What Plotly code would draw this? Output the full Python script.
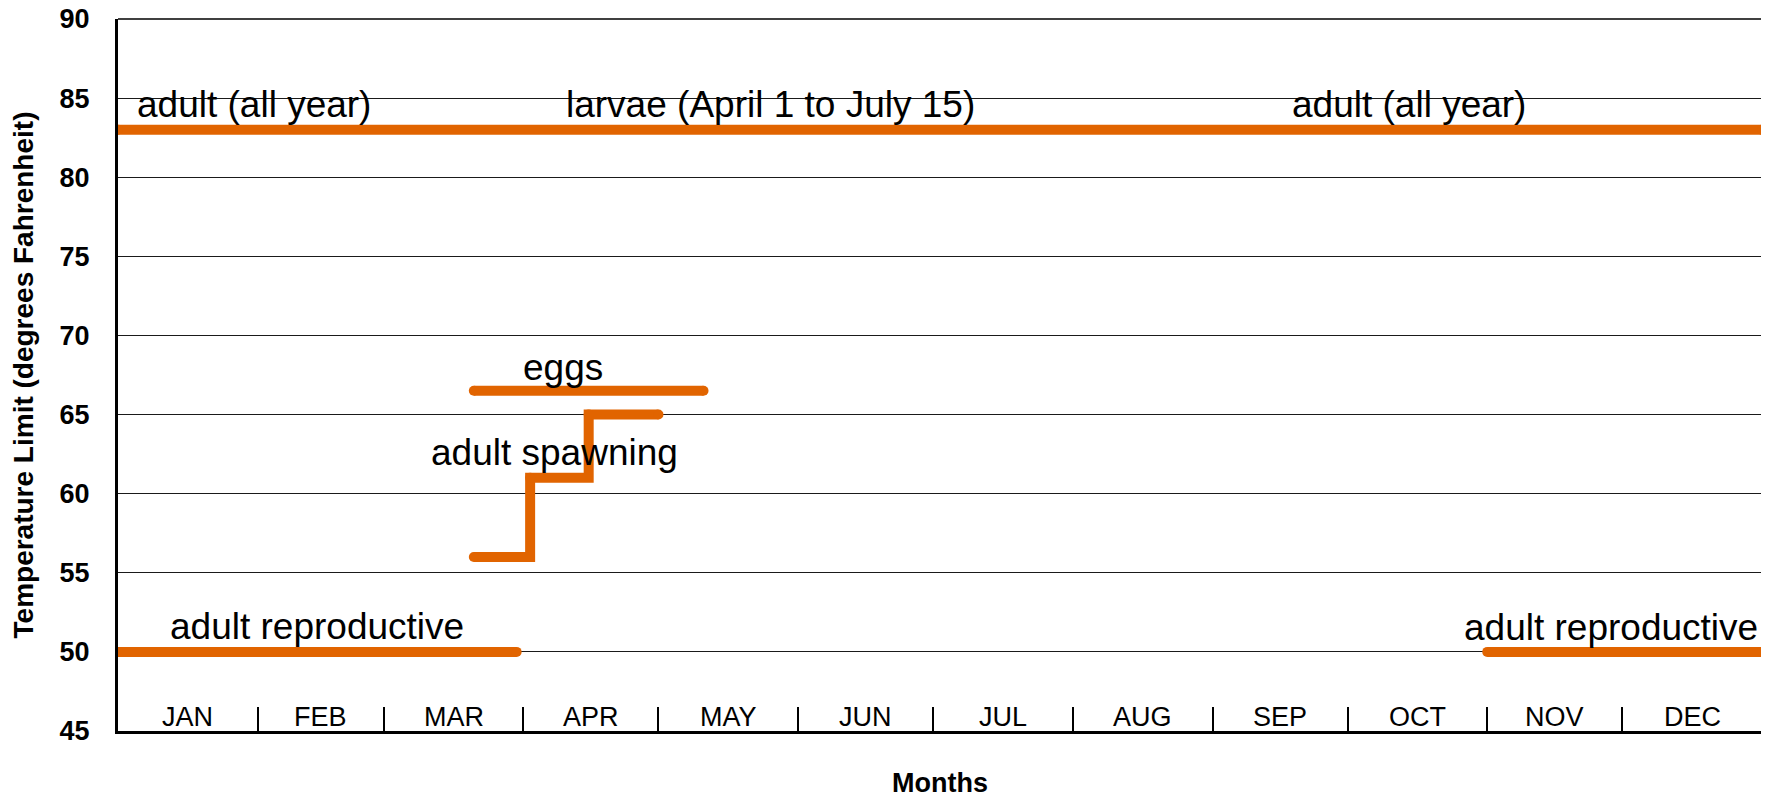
import plotly.graph_objects as go
import numpy as np

# ---- data ----
months = ["JAN", "FEB", "MAR", "APR", "MAY", "JUN", "JUL", "AUG", "SEP", "OCT", "NOV", "DEC"]
month_days = [31, 28, 31, 30, 31, 30, 31, 31, 30, 31, 30, 31]

adult_x = [0, 365]
adult_y = [83, 83]

eggs_x = [79, 130]
eggs_y = [66.5, 66.5]

spawn_x = [79, 91.5, 104.5, 120]
spawn_y = [56, 61, 65, 65]

repro1_x = [0, 88.5]
repro1_y = [50, 50]
repro2_x = [304, 365]
repro2_y = [50, 50]

label_text = ["adult (all year)", "larvae (April 1 to July 15)", "adult (all year)",
              "eggs", "adult spawning", "adult reproductive", "adult reproductive"]
label_x = [30.1, 144.9, 286.6, 98.9, 97.0, 44.2, 331.4]
label_y = [84.6, 84.6, 84.6, 68.0, 62.6, 51.6, 51.55]

y_ticks = [45, 50, 55, 60, 65, 70, 75, 80, 85, 90]

# ---- derived ----
bounds = np.concatenate([[0], np.cumsum(month_days)])
mids = (bounds[:-1] + bounds[1:]) / 2.0

ORANGE = "#E16400"
FONT = "Liberation Sans, Arial, sans-serif"

fig = go.Figure()

def add_line(xs, ys, shape="linear"):
    fig.add_trace(go.Scatter(
        x=xs, y=ys, mode="lines+markers", line=dict(color=ORANGE, width=10, shape=shape),
        marker=dict(color=ORANGE, size=10, line=dict(width=0)),
        showlegend=False, hoverinfo="skip"))

add_line(adult_x, adult_y)
add_line(eggs_x, eggs_y)
add_line(spawn_x, spawn_y, shape="hv")
add_line(repro1_x, repro1_y)
add_line(repro2_x, repro2_y)

annotations = []
for t, x, y in zip(label_text, label_x, label_y):
    annotations.append(dict(x=x, y=y, xref="x", yref="y", text=t, showarrow=False,
                            xanchor="center", yanchor="middle",
                            font=dict(family=FONT, size=37, color="black")))
for m, x in zip(months, mids):
    annotations.append(dict(x=x, y=45.9, xref="x", yref="y", text=m, showarrow=False,
                            xanchor="center", yanchor="middle",
                            font=dict(family=FONT, size=27, color="black")))

fig.update_layout(
    width=1761, height=791,
    margin=dict(l=110, r=7, t=11, b=68),
    paper_bgcolor="white", plot_bgcolor="white",
    font=dict(family=FONT, color="black"),
    annotations=annotations,
    shapes=[
        dict(type="line", xref="paper", yref="paper", x0=0, x1=1, y0=1, y1=1,
             line=dict(color="black", width=1.5)),
        dict(type="line", xref="paper", yref="paper", x0=1, x1=1, y0=0, y1=1,
             line=dict(color="#808080", width=1.5)),
    ],
    xaxis=dict(
        range=[0, 365], tickvals=bounds.tolist(), showticklabels=False,
        ticks="inside", ticklen=24, tickwidth=2, tickcolor="black",
        showgrid=False, zeroline=False, automargin=False,
        showline=True, linecolor="black", linewidth=3,
        title=dict(text="<b>Months</b>", font=dict(family=FONT, size=27, color="black"), standoff=41),
    ),
    yaxis=dict(
        range=[45, 90], tickvals=y_ticks, ticks="", ticklabelstandoff=20,
        ticklabeloverflow="allow",
        tickfont=dict(family=FONT, size=27, color="black", weight="bold"),
        showgrid=True, gridcolor="#1a1a1a", gridwidth=1, automargin=False,
        zeroline=False, showline=True, linecolor="black", linewidth=3,
        title=dict(text="<b>Temperature Limit (degrees Fahrenheit)</b>",
                   font=dict(family=FONT, size=28, color="black"), standoff=20),
    ),
)

fig.write_html("out.html")
